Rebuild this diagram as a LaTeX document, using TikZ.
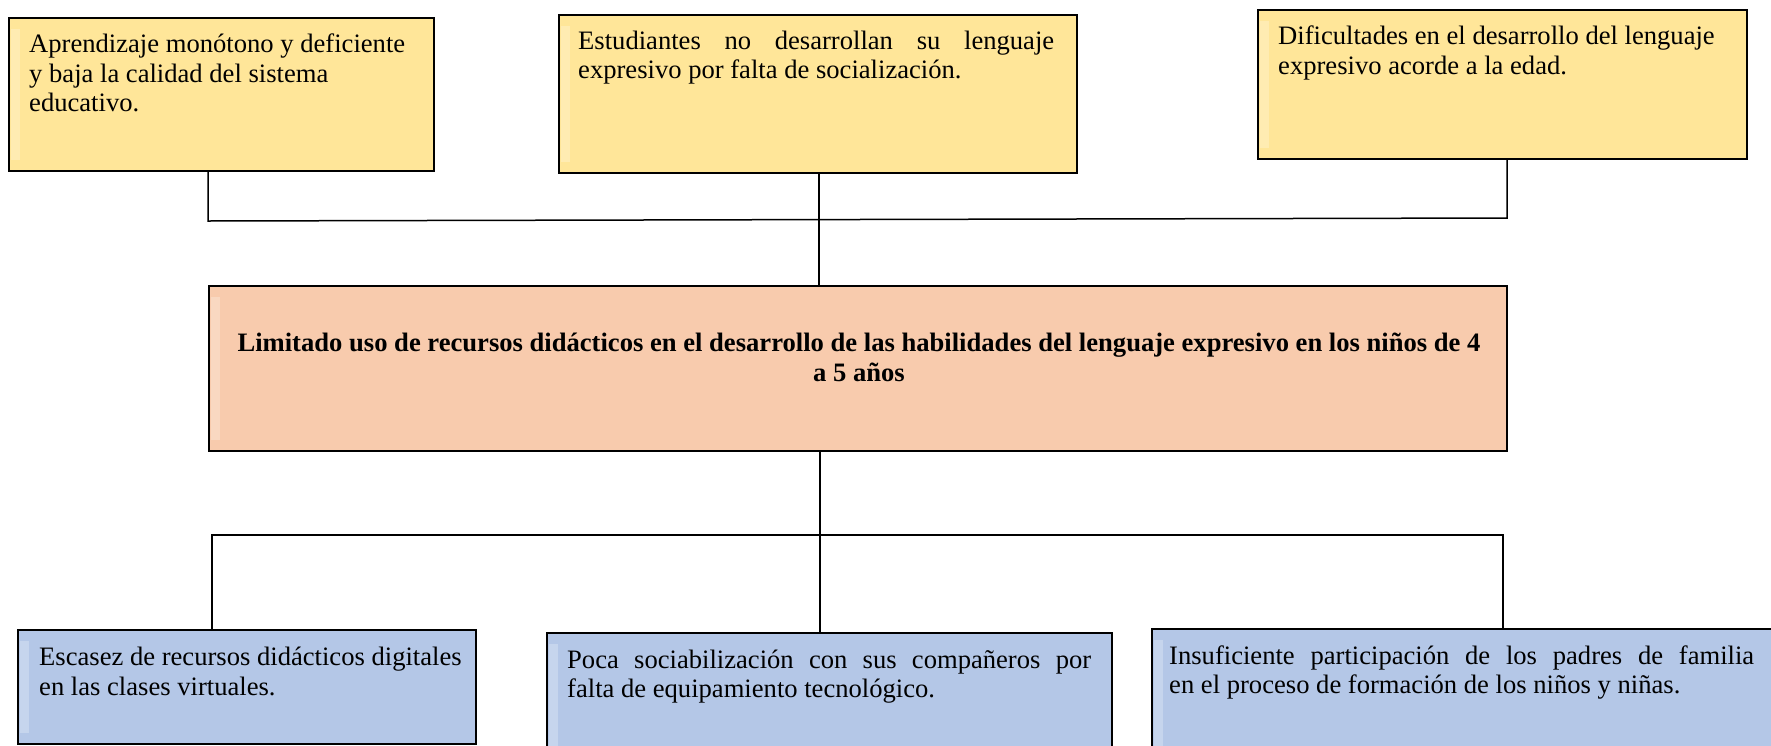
\documentclass[tikz,border=0pt]{standalone}
\usepackage{fontspec}
\setmainfont{Liberation Serif}
\usetikzlibrary{calc}
\definecolor{yel}{HTML}{FFE699}
\definecolor{ora}{HTML}{F8CBAD}
\definecolor{blu}{HTML}{B4C7E7}
\tolerance=10000
\hbadness=10000
\begin{document}
\begin{tikzpicture}[x=1pt,y=-1pt,
  box/.style={draw=black, line width=1.6pt, inner sep=0pt, anchor=north west},
  txt/.style={inner sep=0pt, anchor=north west, font=\fontsize{26.6}{29.5}\selectfont, align=left},
  jtxt/.style={inner sep=0pt, anchor=north west, font=\fontsize{26.6}{28.5}\selectfont, align=justify},
  ctxt/.style={inner sep=0pt, anchor=north, font=\fontsize{26.6}{29.5}\selectfont\bfseries, align=center},
  link/.style={draw=black, line width=1.5pt},
  edge strip/.style={fill=white, fill opacity=0.25, draw=none}]
\useasboundingbox (0,0) rectangle (1771,745);
\clip (0,0) rectangle (1771,745);
\fill[white] (0,0) rectangle (1771,745);

% top (effects) boxes
\node[box, fill=yel, minimum width=425pt, minimum height=153pt] (c1) at (8,17) {};
\node[box, fill=yel, minimum width=518pt, minimum height=158pt] (c2) at (558,14) {};
\node[box, fill=yel, minimum width=489pt, minimum height=149pt] (c3) at (1257,9) {};

% central problem
\node[box, fill=ora, minimum width=1298pt, minimum height=165pt] (prob) at (208,285) {};

% bottom (causes) boxes
\node[box, fill=blu, minimum width=458pt, minimum height=114pt] (e1) at (17,629) {};
\node[box, fill=blu, minimum width=565pt, minimum height=140pt] (e2) at (546,632) {};
\node[box, fill=blu, minimum width=660pt, minimum height=140pt] (e3) at (1151,628) {};

% faint left-edge shading inside the boxes
\foreach \b in {c1,c2,c3,prob,e1,e2,e3}{
  \path[edge strip] ($(\b.north west)+(3,12)$) rectangle ($(\b.south west)+(12,-12)$);
}

% texts
\node[txt] (t1) at (29,34) {Aprendizaje monótono y deficiente\\y baja la calidad del sistema\\educativo.};
\node[jtxt, text width=476pt] (t2) at (578,31) {Estudiantes no desarrollan su lenguaje\linebreak expresivo por falta de socialización.};
\node[txt] (t3) at (1278,26) {Dificultades en el desarrollo del lenguaje\\expresivo acorde a la edad.};
\node[ctxt] (tp) at (859,333) {Limitado uso de recursos didácticos en el desarrollo de las habilidades del lenguaje expresivo en los niños de 4\\a 5 años};
\node[txt] (s1) at (39,647) {Escasez de recursos didácticos digitales\\en las clases virtuales.};
\node[jtxt, text width=524pt] (s2) at (567,650) {Poca sociabilización con sus compañeros por\linebreak falta de equipamiento tecnológico.};
\node[jtxt, text width=585pt] (s3) at (1169,646) {Insuficiente participación de los padres de familia\linebreak en el proceso de formación de los niños y niñas.};

% connectors top
\coordinate (hl) at (208,221);
\coordinate (hr) at (1507,218);
\coordinate (hm) at (819,219.5);
\draw[link] (hl |- c1.south) -- (hl) -- (hr) -- (hr |- c3.south);
\draw[link] (hm |- c2.south) -- (hm |- prob.north);

% connectors bottom
\coordinate (ll) at (212,535);
\coordinate (lr) at (1503,535);
\coordinate (lm) at (820,535);
\draw[link] (lm |- prob.south) -- (lm);
\draw[link] (ll |- e1.north) -- (ll) -- (lr) -- (lr |- e3.north);
\draw[link] (lm) -- (lm |- e2.north);
\end{tikzpicture}
\end{document}
